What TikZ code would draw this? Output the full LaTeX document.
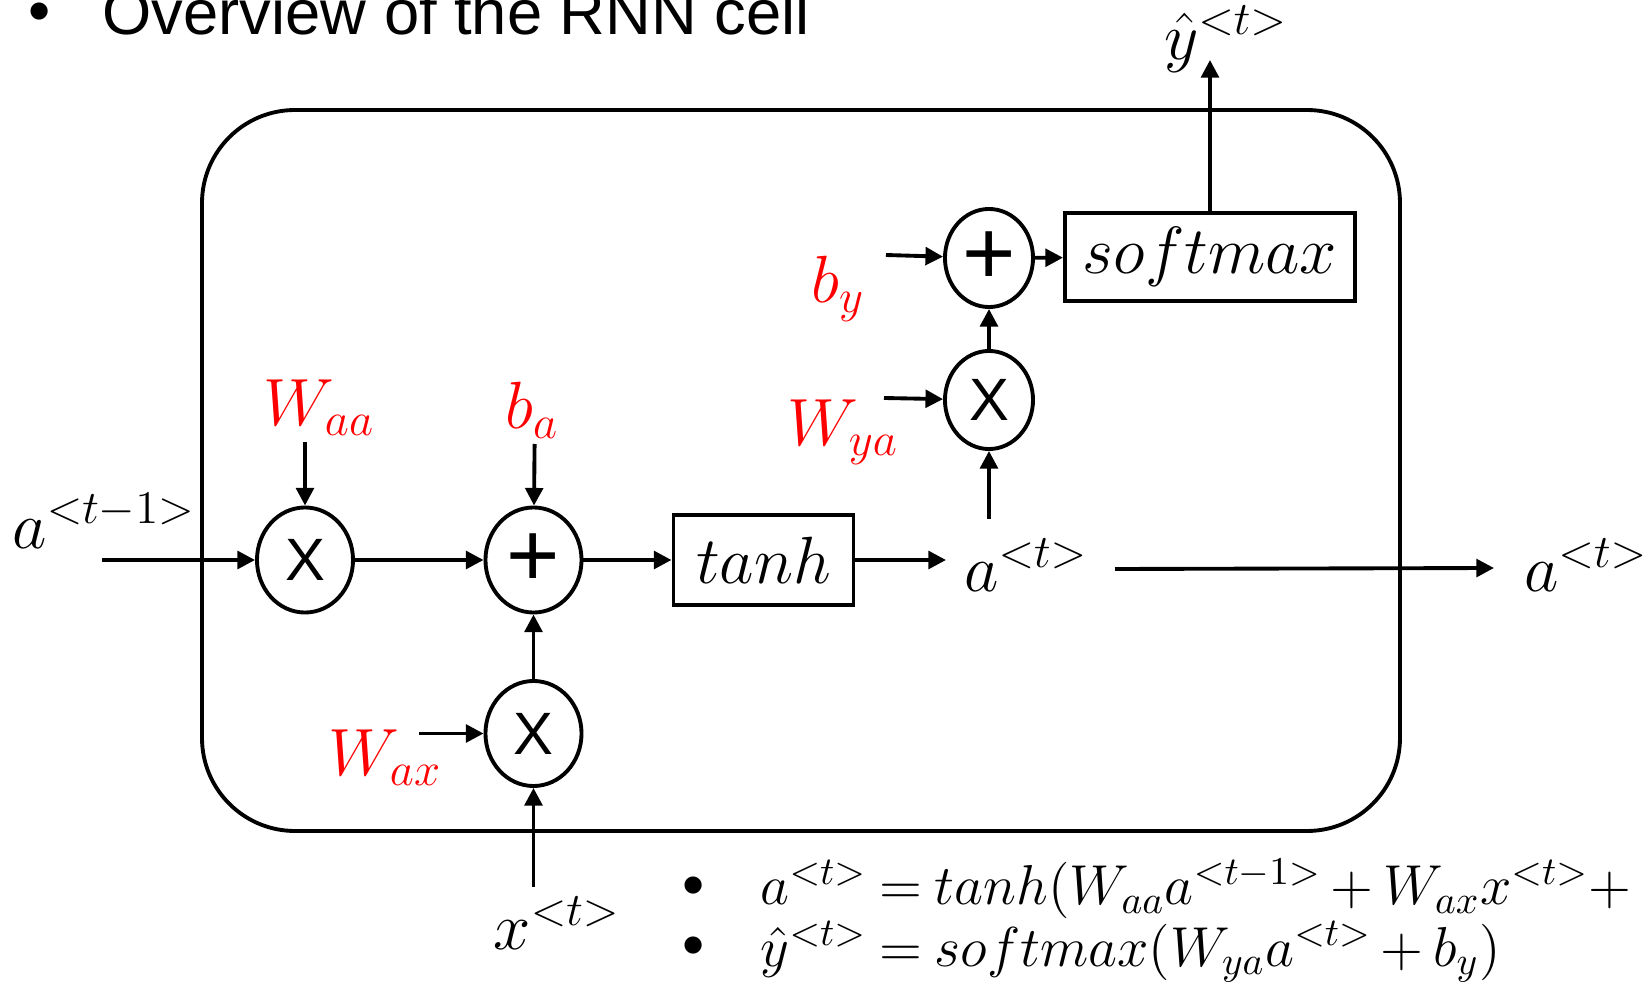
\documentclass[tikz,border=0pt]{standalone}
\usepackage{fix-cm}
\usepackage[no-math]{fontspec}
\newfontfamily\arial{Liberation Sans}
\usetikzlibrary{arrows.meta,shapes.geometric}
\newcommand\tightmath{\thickmuskip=4mu\relax\medmuskip=3mu\relax}
\tikzset{
  op/.style ={ellipse,draw,line width=1.1pt,minimum width=.96cm,minimum height=1.05cm,
              inner sep=0pt,font=\arial\fontsize{17}{19}\selectfont},
  opy/.style={op,minimum width=.88cm,minimum height=.98cm},
  pl/.style ={font=\arial\fontsize{26}{28}\selectfont},
  fn/.style ={draw,line width=1.1pt,inner sep=0pt,font=\fontsize{19}{22}\selectfont},
  ar/.style ={-{Triangle[length=5pt,width=5pt]},line width=1.1pt},
  lbl/.style={font=\fontsize{19}{22}\selectfont,inner sep=0pt},
  wt/.style ={lbl,text=red},
  eqn/.style={font=\fontsize{16}{20}\selectfont\tightmath,anchor=base west,inner sep=0pt},
  blt/.style={font=\arial\fontsize{18}{20}\selectfont,inner sep=0pt},
}
\begin{document}
\begin{tikzpicture}[x=0.01cm,y=-0.01cm]
  \useasboundingbox (0,0) rectangle (1650,988);
  \node[blt] (b0) at (40,18){•};
  \node[font=\arial\fontsize{18}{20}\selectfont,anchor=base west,inner sep=0pt] (ttl) at (102,35){Overview of the RNN cell};
  % the cell
  \draw[line width=1.1pt,rounded corners=.93cm] (202,110) rectangle (1400,831);
  \node[op] (mulA) at (305,560){X};
  \node[op,pl] (addA) at (533.5,560){+};
  \node[op] (mulX) at (533.5,733.5){X};
  \node[fn,minimum width=1.8cm,minimum height=.895cm] (tanh) at (763.5,560){$tanh$};
  \node[lbl,anchor=west,inner xsep=5pt] (at) at (946,565){$a^{<t>}$};
  \node[opy] (mulY) at (989,400){X};
  \node[opy,pl] (addY) at (989,258){+};
  \node[fn,minimum width=2.9cm,minimum height=.88cm] (smax) at (1210,257){$softmax$};
  % inputs / outputs
  \node[lbl] (aprev) at (104,521){$a^{<t-1>}$};
  \node[wt] (Waa) at (319,408){$W_{aa}$};
  \node[wt] (ba) at (532,410){$b_a$};
  \node[wt] (Wax) at (385,758){$W_{ax}$};
  \node[lbl] (xt) at (557,923){$x^{<t>}$};
  \node[wt] (Wya) at (843,432){$W_{ya}$};
  \node[wt] (by) at (838,289){$b_y$};
  \node[lbl] (yhat) at (1226,39){$\hat{y}^{<t>}$};
  \node[lbl] (aout) at (1586,565){$a^{<t>}$};
  \coordinate (pA) at (102,560);
  \coordinate (pWaa) at (305,442);
  \coordinate (pba) at (534.6,444);
  \coordinate (pWax) at (419,733.5);
  \coordinate (px) at (533.5,887);
  \coordinate (pWya) at (884,398);
  \coordinate (pby) at (886,255);
  \coordinate (pat) at (989,519);
  \coordinate (py) at (1210,60);
  \coordinate (po0) at (1115,569);
  \coordinate (po1) at (1494,568);
  \draw[ar] (pA)--(mulA);
  \draw[ar] (mulA)--(addA);
  \draw[ar] (addA)--(tanh);
  \draw[ar] (tanh.east)--(at.west |- tanh.east);
  \draw[ar] (pWaa)--(mulA);
  \draw[ar] (pba)--(addA);
  \draw[ar] (pWax)--(mulX);
  \draw[ar] (px)--(mulX);
  \draw[ar] (mulX)--(addA);
  \draw[ar] (pat)--(mulY);
  \draw[ar] (mulY)--(addY);
  \draw[ar] (pWya)--(mulY);
  \draw[ar] (pby)--(addY);
  \draw[ar] (addY)--(smax);
  \draw[ar] (smax)--(py);
  \draw[ar] (po0)--(po1);
  % equations
  \node[blt] (b1) at (694,892){•};
  \node[blt] (b2) at (694,952){•};
  \node[eqn] (eq1) at (760,905){$a^{<t>} = tanh(W_{aa}a^{<t-1>} + W_{ax}x^{<t>} +$};
  \node[eqn] (eq2) at (760,966){$\hat{y}^{<t>} = softmax(W_{ya}a^{<t>} + b_y)$};
\end{tikzpicture}
\end{document}
